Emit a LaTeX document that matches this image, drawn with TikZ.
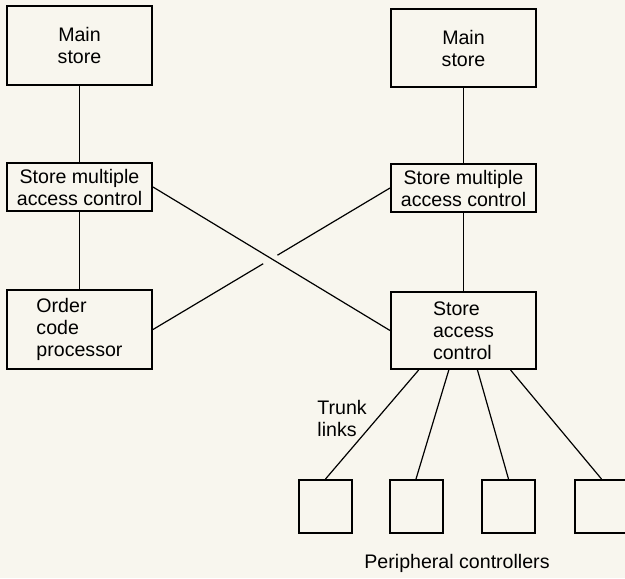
\documentclass[tikz,border=0pt]{standalone}
\usepackage{fontspec}
\setmainfont{Liberation Sans}
\usetikzlibrary{calc}

\definecolor{paper}{RGB}{248,246,238}

\tikzset{
  unit/.style={draw, line width=1pt, minimum width=72.5pt, inner sep=0pt, align=center},
  ctrlbox/.style={unit, align=left},
  pcbox/.style={draw, line width=1pt, minimum width=26.5pt, minimum height=26.5pt, inner sep=0pt},
  link/.style={line width=0.6pt}
}

\begin{document}
\begin{tikzpicture}[x=0.5pt, y=-0.5pt, font=\fontsize{9.8}{11}\selectfont]
    \useasboundingbox[fill=paper] (0,0) rectangle (625,578);

    % left column
    \node[unit, minimum height=39.5pt] (mainL) at (79.5,45.5) {Main\\store};
    \node[unit, minimum height=24pt] (smacL) at (79.5,187) {Store multiple\\access control};
    \node[ctrlbox, minimum height=39.5pt] (ocp) at (79.5,329.5) {Order\\code\\processor};

    % right column
    \node[unit, minimum height=39pt] (mainR) at (463.5,48) {Main\\store};
    \node[unit, minimum height=24pt] (smacR) at (463.5,188) {Store multiple\\access control};
    \node[ctrlbox, minimum height=38.5pt] (sac) at (463.5,330.5) {Store\\access\\control};

    % vertical links
    \draw[link] (mainL) -- (smacL);
    \draw[link] (smacL) -- (ocp);
    \draw[link] (mainR) -- (smacR);
    \draw[link] (smacR) -- (sac);

    % cross links (the second one is broken where it passes under)
    \draw[link] (smacL.east) -- (sac.west);
    \draw[link] (smacR.west) -- ($(smacR.west)!0.475!(ocp.east)$);
    \draw[link] ($(smacR.west)!0.535!(ocp.east)$) -- (ocp.east);

    % peripheral controllers
    \foreach \i/\x in {1/325.5, 2/416, 3/508.5, 4/601.5}
        \node[pcbox] (pc\i) at (\x,506.5) {};
    \foreach \i/\f in {1/0.195, 2/0.4, 3/0.595, 4/0.82}
        \draw[link] ($(sac.south west)!\f!(sac.south east)$) -- (pc\i.north);

    \node[anchor=west, align=left, inner sep=0pt] (trunk) at (317,418) {Trunk\\links};
    \node[inner sep=0pt] (pclabel) at (457,563) {Peripheral controllers};

\end{tikzpicture}
\end{document}
